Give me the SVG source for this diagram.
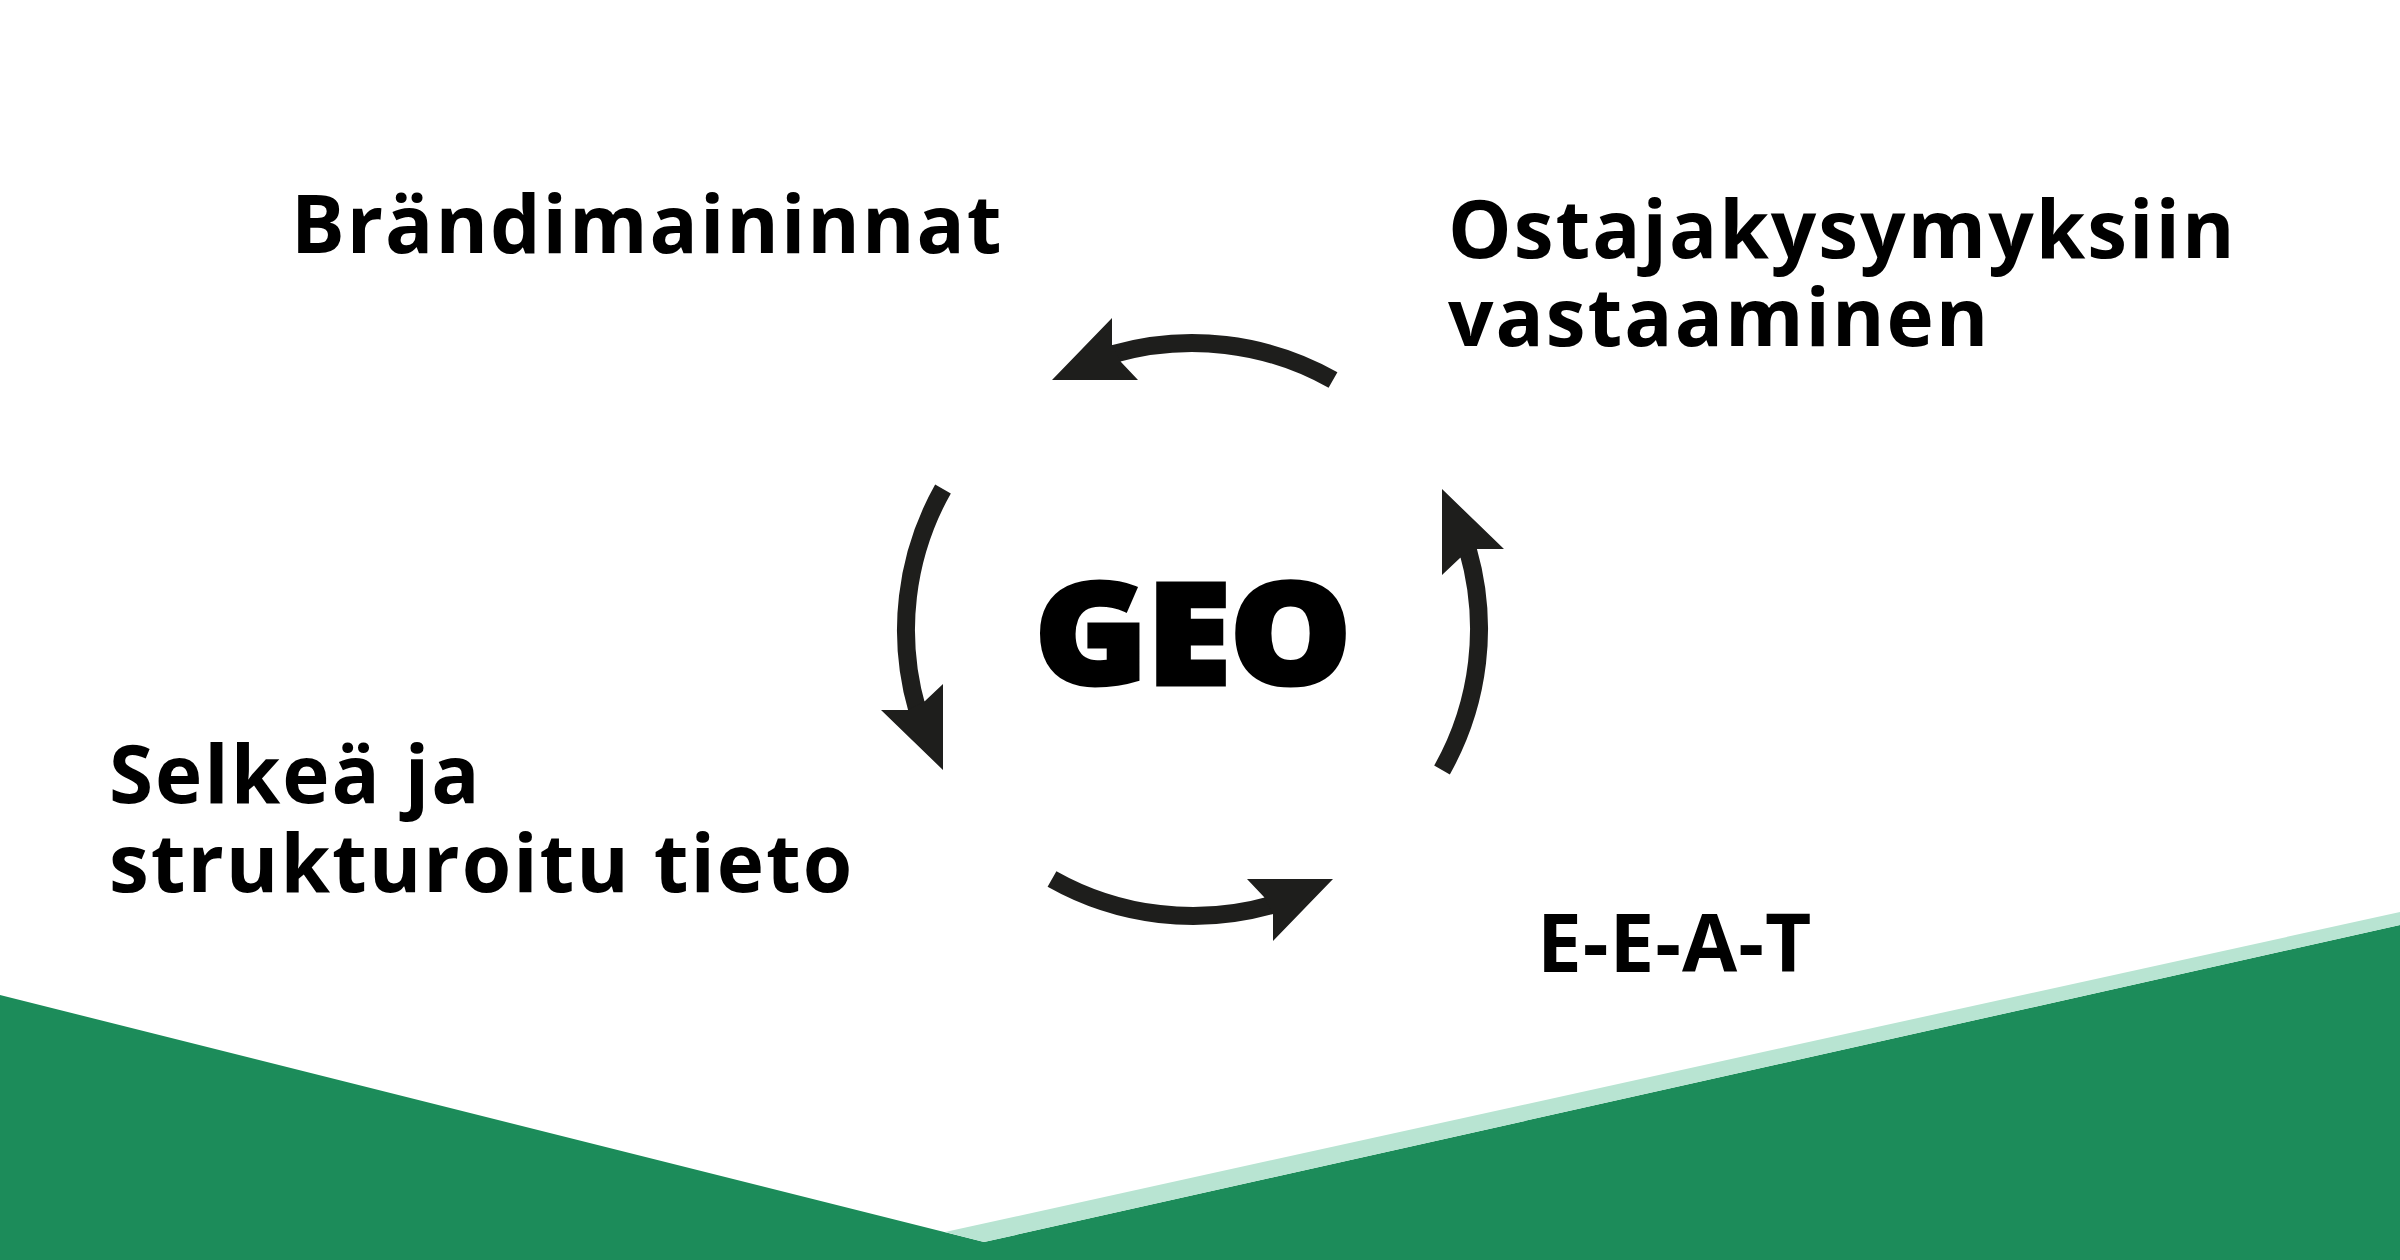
<svg xmlns="http://www.w3.org/2000/svg" xmlns:xlink="http://www.w3.org/1999/xlink" width="2400" height="1260" viewBox="0 0 2400 1260">
  <style>
    .lbl { font-family: "Open Sans", "Noto Sans", "Liberation Sans", sans-serif; font-weight: 700; font-size: 80px; fill: #000; letter-spacing: 2px; }
    .geo { font-family: "Open Sans", "Noto Sans", "Liberation Sans", sans-serif; font-weight: 800; font-size: 140px; fill: #000; stroke: #000; stroke-width: 5; stroke-linejoin: miter; }
    .shaft { fill: none; stroke: #1e1e1c; stroke-width: 18; stroke-linecap: butt; }
    .head { fill: #1e1e1c; }
  </style>
  <defs>
    <g id="arc-arrow">
      <path class="shaft" d="M1333,380 A287,287 0 0 0 1112.9,354.1"/>
      <polygon class="head" points="1052,380 1112,318 1112,345 1121,362 1138,380"/>
    </g>
  </defs>
  <rect width="2400" height="1260" fill="#ffffff"/>
  <g id="background">
    <polygon points="0,995 984,1242 2400,925 2400,1260 0,1260" fill="#1c8c5a"/>
    <polygon points="945,1232 2400,912 2400,925 984,1242" fill="#b8e4d2"/>
  </g>
  <g id="connectors">
    <use xlink:href="#arc-arrow" href="#arc-arrow"/>
    <use xlink:href="#arc-arrow" href="#arc-arrow" transform="rotate(-90 1192.5 629.5)"/>
    <use xlink:href="#arc-arrow" href="#arc-arrow" transform="rotate(180 1192.5 629.5)"/>
    <use xlink:href="#arc-arrow" href="#arc-arrow" transform="rotate(90 1192.5 629.5)"/>
  </g>
  <g id="node-geo"><text class="geo" x="1035" y="684" textLength="316" lengthAdjust="spacingAndGlyphs">GEO</text></g>
  <g id="node-brandimaininnat"><text class="lbl" x="291" y="253">Brändimaininnat</text></g>
  <g id="node-ostajakysymyksiin"><text class="lbl" x="1448" y="258">Ostajakysymyksiin</text><text class="lbl" x="1448" y="346">vastaaminen</text></g>
  <g id="node-selkea"><text class="lbl" x="109" y="803">Selkeä ja</text><text class="lbl" x="109" y="892">strukturoitu tieto</text></g>
  <g id="node-eeat"><text class="lbl" x="1537" y="972" style="letter-spacing:1px">E-E-A-T</text></g>
</svg>
